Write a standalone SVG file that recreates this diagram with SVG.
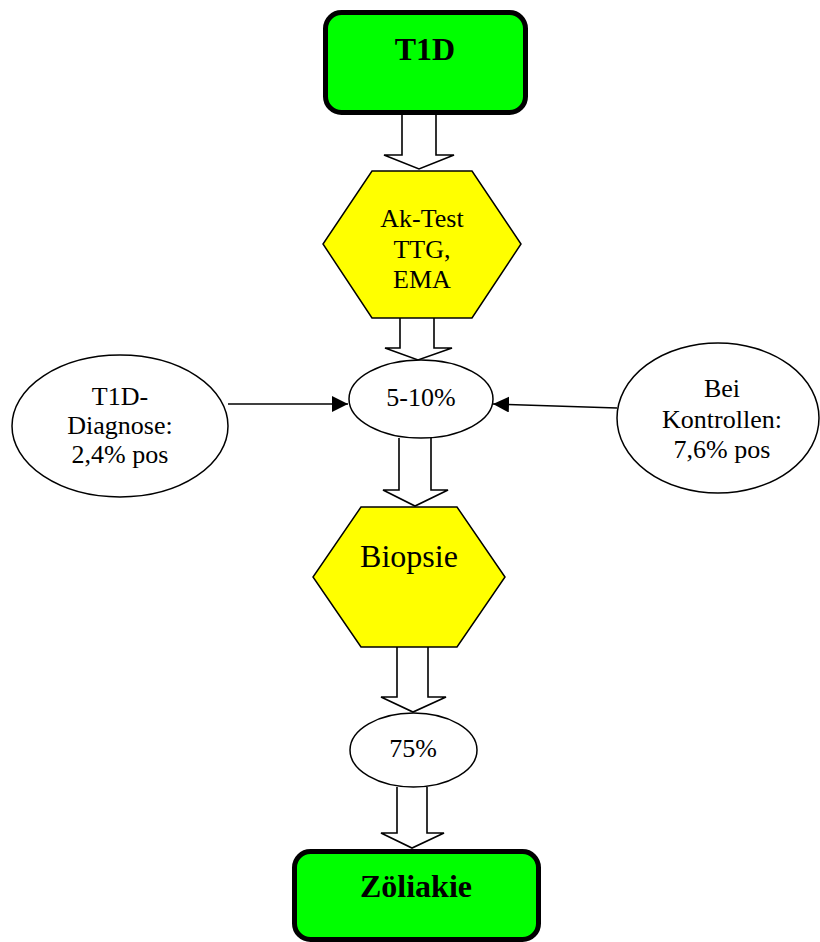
<svg xmlns="http://www.w3.org/2000/svg" width="820" height="942" viewBox="0 0 820 942">
<defs>
<style>
.box{fill:#00ff00;stroke:#000;stroke-width:5}
.hex{fill:#ffff00;stroke:#000;stroke-width:1.5}
.ell{fill:#fff;stroke:#000;stroke-width:1.5}
.blk{fill:#fff;stroke:#000;stroke-width:1.6}
.ln{fill:none;stroke:#000;stroke-width:1.5}
text{font-family:"Liberation Serif","Times New Roman",serif;fill:#000;text-anchor:middle}
.b{font-weight:bold;font-size:32px}
.t{font-size:26px}
.big{font-size:32px}
</style>
<marker id="ah" viewBox="0 0 16 16" refX="16" refY="8" markerWidth="16" markerHeight="16" markerUnits="userSpaceOnUse" orient="auto">
<path d="M0,0 L16,8 L0,16 Z" fill="#000"/>
</marker>
</defs>
<g id="connectors">
<path class="blk" d="M402,115 V155 H384 L419,169 L454,155 H436 V115"/>
<path class="blk" d="M400,318 V348 H385 L418,360 L452,348 H434 V318"/>
<path class="blk" d="M399,438 V490 H383 L415,506 L448,490 H431 V438"/>
<path class="blk" d="M397,647 V697 H381 L413,712 L446,697 H428 V647"/>
<path class="blk" d="M397,787 V833 H381 L412,848 L444,833 H427 V787"/>
<line class="ln" x1="228" y1="404" x2="348" y2="404" marker-end="url(#ah)"/>
<line class="ln" x1="617" y1="408" x2="493" y2="404" marker-end="url(#ah)"/>
</g>
<g id="t1d">
<rect class="box" x="325.5" y="12.5" width="200" height="100" rx="16"/>
<text class="b" x="425" y="60">T1D</text>
</g>
<g id="aktest">
<polygon class="hex" points="372,171 472,171 521,244 472,318 372,318 323,244"/>
<text class="t" x="422" y="227">Ak-Test</text>
<text class="t" x="422" y="258">TTG,</text>
<text class="t" x="422" y="288">EMA</text>
</g>
<g id="pct510">
<ellipse class="ell" cx="421" cy="399" rx="72" ry="39"/>
<text class="t" x="421" y="406">5-10%</text>
</g>
<g id="diagnose">
<ellipse class="ell" cx="120" cy="426" rx="108" ry="71"/>
<text class="t" x="120" y="405">T1D-</text>
<text class="t" x="120" y="434">Diagnose:</text>
<text class="t" x="120" y="463">2,4% pos</text>
</g>
<g id="kontrollen">
<ellipse class="ell" cx="718" cy="418" rx="101" ry="75"/>
<text class="t" x="722" y="397">Bei</text>
<text class="t" x="722" y="428">Kontrollen:</text>
<text class="t" x="722" y="458">7,6% pos</text>
</g>
<g id="biopsie">
<polygon class="hex" points="361,507 457,507 505,577 457,647 361,647 313,577"/>
<text class="big" x="409" y="567">Biopsie</text>
</g>
<g id="pct75">
<ellipse class="ell" cx="413.5" cy="750" rx="63.5" ry="37"/>
<text class="t" x="413" y="757">75%</text>
</g>
<g id="zoeliakie">
<rect class="box" x="294.5" y="851.5" width="244" height="88" rx="16"/>
<text class="b" x="416" y="897">Zöliakie</text>
</g>
</svg>
